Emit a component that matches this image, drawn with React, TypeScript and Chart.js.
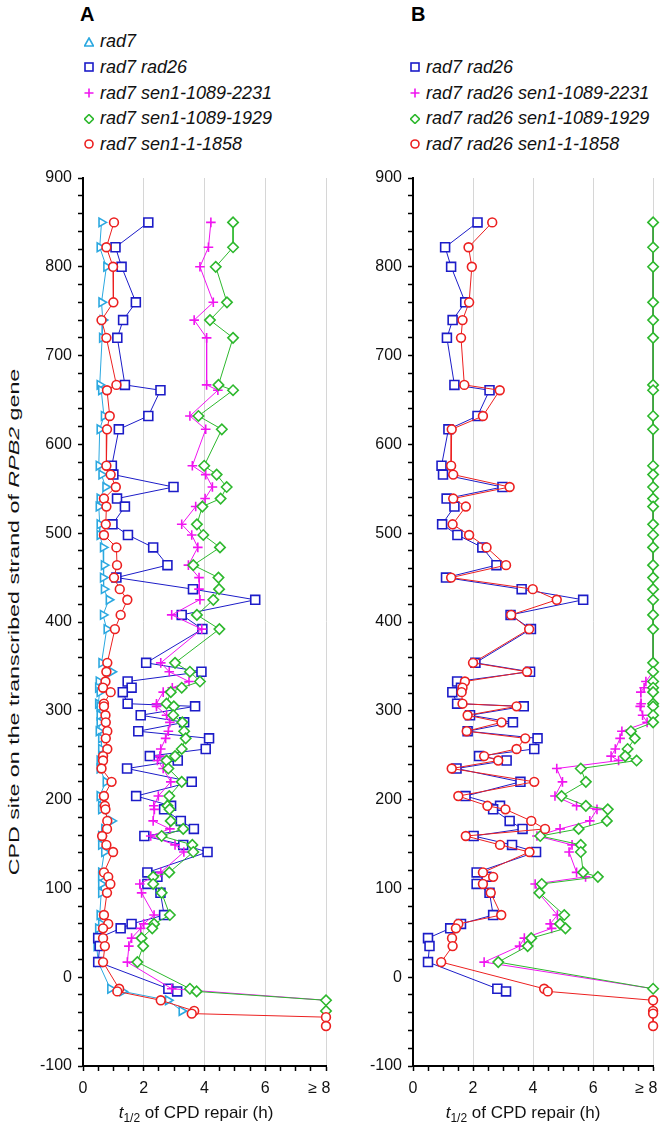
import React, { useEffect, useRef } from 'react';
import { Chart, registerables } from 'chart.js';

Chart.register(...registerables);

const FONT = "'Liberation Sans', Arial, Helvetica, sans-serif";

// CPD sites (y values, shared by all series)
const sites = [
  850, 822, 800, 760, 740, 720, 667, 661, 632, 617,
  576, 566, 552, 539, 530, 510, 498, 484, 464, 450,
  437, 425, 408, 392, 354, 344, 333, 326, 321, 308,
  305, 295, 287, 277, 269, 257, 249, 244, 235, 220,
  204, 193, 189, 176, 167, 159, 149, 141, 118, 113,
  105, 95, 70, 60, 55, 44, 35, 17, -13, -16,
  -26, -38, -41, -45, -55,
];

// t1/2 (h) values, aligned with sites; null = no point
const rad7 = [
  0.61, 0.55, 0.77, 0.61, 0.65, 0.63, 0.55, 0.6, 0.69, 0.55,
  0.52, 0.61, 0.74, 0.55, 0.52, 0.55, 0.55, 0.66, 0.69, 0.66,
  0.69, 0.85, 0.66, 0.78, 0.61, 0.94, 0.52, 0.5, 0.55, 0.5,
  0.55, 0.55, 0.55, 0.52, 0.6, 0.6, 0.62, 0.55, 0.55, 0.75,
  0.55, 0.6, 0.6, 0.94, 0.7, 0.6, 0.6, 0.7, 0.6, 0.6,
  0.6, 0.6, 0.55, 0.6, 0.5, 0.45, 0.45, 0.5, 0.9, 1.3,
  2.8, 3.25, null, null, null,
];

const rad7rad26 = [
  2.15, 1.07, 1.27, 1.74, 1.32, 1.13, 1.38, 2.55, 2.15, 1.18,
  0.95, 1.0, 2.98, 1.12, 1.38, 0.97, 1.48, 2.31, 2.78, 1.1,
  3.62, 5.67, 3.25, 3.93, 2.08, 3.9, 1.47, 1.6, 1.31, 1.47,
  3.69, 1.9, 3.33, 1.82, 4.15, 4.04, 2.2, 3.12, 1.45, 3.58,
  1.75, 2.9, 2.67, 3.22, 3.65, 2.02, 3.3, 4.1, 2.12, 2.45,
  2.12, 2.55, 2.67, 1.6, 1.24, 0.5, 0.55, 0.5, 2.81, 3.1,
  null, null, null, null, null,
];

const aSen2231 = [
  4.21, 4.13, 3.85, 4.29, 3.66, 4.07, 4.07, 4.44, 3.52, 4.04,
  3.6, 4.04, 4.26, 4.02, 3.71, 3.25, 3.58, 3.78, 3.47, 3.82,
  3.82, 3.85, 2.92, 3.91, 2.56, 2.84, 3.49, 2.94, 2.64, 2.42,
  2.42, 2.75, 2.86, 2.81, 2.72, 2.56, 2.53, 2.45, 2.64, 2.89,
  2.48, 2.33, 2.35, 2.31, 2.86, 2.23, 3.03, 3.32, 2.56, null,
  1.87, 1.93, 2.34, 2.0, 1.9, 1.6, 1.51, 1.46, 2.92, null,
  8, null, null, null, null,
];

const aSen1929 = [
  4.94, 4.94, 4.37, 4.74, 4.18, 4.94, 4.46, 4.94, 3.8, 4.57,
  3.99, 4.4, 4.73, 4.53, 3.93, 3.75, 3.96, 4.51, 3.63, 4.46,
  4.48, 4.29, 3.75, 4.49, 3.03, 3.52, 3.85, 3.25, 2.89, 2.75,
  2.99, 2.97, 3.27, 3.33, 3.38, 3.25, 3.03, 2.75, 2.81, 3.25,
  2.84, 2.78, 2.85, 2.89, 3.3, 2.59, 3.6, 3.63, 2.84, 2.31,
  2.31, 2.59, 2.86, 2.34, 2.28, 1.93, 1.98, 1.79, 3.52, 3.74,
  8, 8, null, null, null,
];

const aSen1858 = [
  1.02, 0.77, 0.99, 1.0, 0.61, 0.77, 1.1, 0.79, 0.88, 0.79,
  0.77, 0.91, 1.08, 0.69, 0.77, 0.75, 0.69, 1.1, 1.12, 1.02,
  1.21, 1.46, 1.24, 1.05, 0.8, 0.77, 0.74, 0.66, 0.91, 0.69,
  0.69, 0.74, 0.75, 0.8, 0.75, 0.8, 0.66, 0.66, 0.61, 0.94,
  0.69, 0.72, 0.74, 0.8, 0.79, 0.63, 0.77, 0.99, 0.69, 0.83,
  0.9, 0.79, 0.69, 0.83, 0.66, 0.66, 0.72, 0.66, 1.19, 1.13,
  2.56, 3.66, 3.58, 8, 8,
];

const bSen2231 = [
  8, 8, 8, 8, 8, 8, 8, 8, 8, 8,
  8, 8, 8, 8, 8, 8, 8, 8, 8, 8,
  8, 8, 8, 8, 8, 8, 7.76, 7.7, 7.59, 7.6,
  7.57, 7.65, 7.8, 6.96, 6.9, 6.74, 6.6, 6.85, 4.79, 4.98,
  4.73, 5.45, 6.13, 5.89, 4.9, 4.13, 5.3, 5.2, 5.45, 5.75,
  4.07, 4.18, 4.81, 4.57, 4.62, 3.71, 3.55, 2.37, 8, null,
  null, null, null, null, null,
];

const bSen1929 = [
  8, 8, 8, 8, 8, 8, 8, 8, 8, 8,
  8, 8, 8, 8, 8, 8, 8, 8, 8, 8,
  8, 8, 8, 8, 8, 8, 8, 8, 8, 8,
  8, 8, 8, 7.26, 7.39, 7.15, 7.07, 7.45, 5.59, 5.76,
  4.95, 5.76, 6.49, 6.46, 5.52, 4.24, 5.59, 5.59, 5.67, 6.16,
  4.29, 4.21, 5.04, 4.9, 5.08, 3.94, 3.82, 2.84, 8, null,
  null, null, null, null, null,
];

const bSen1858 = [
  2.64, 1.85, 1.96, 1.87, 1.65, 1.6, 1.71, 2.89, 2.33, 1.29,
  1.27, 1.34, 3.22, 1.34, 1.76, 1.32, 1.87, 2.45, 3.1, 1.27,
  3.99, 4.79, 3.27, 3.87, 2.0, 3.8, 1.73, 1.65, 1.62, 1.65,
  3.45, 1.82, 2.95, 1.79, 3.74, 3.45, 2.37, 2.84, 1.29, 4.04,
  1.51, 2.48, 3.08, 3.94, 4.4, 1.76, 2.9, 3.88, 2.33, 2.67,
  2.33, 2.59, 2.94, 1.51, 1.43, 1.3, 1.32, 0.94, 4.37, 4.49,
  8, 8, 8, null, 8,
];

const legendA = ['rad7', 'rad7 rad26', 'rad7 sen1-1089-2231', 'rad7 sen1-1089-1929', 'rad7 sen1-1-1858'];
const legendB = ['rad7 rad26', 'rad7 rad26 sen1-1089-2231', 'rad7 rad26 sen1-1089-1929', 'rad7 rad26 sen1-1-1858'];

const xLabelValues = [0, 2, 4, 6, 8];

const C = {
  cyan: '#2ba8e0',
  blue: '#1c1cc8',
  magenta: '#f014f0',
  green: '#2db82d',
  red: '#ec2020',
};

type Style = { color: string; shape: string; r: number; rot?: number };
const S: Record<string, Style> = {
  tri: { color: C.cyan, shape: 'triangle', r: 5, rot: 90 },
  sq: { color: C.blue, shape: 'rect', r: 6.3 },
  plus: { color: C.magenta, shape: 'cross', r: 4.8 },
  dia: { color: C.green, shape: 'rectRot', r: 5.2 },
  circ: { color: C.red, shape: 'circle', r: 4.4 },
};

function toPoints(vals: (number | null)[]) {
  const pts: { x: number; y: number }[] = [];
  sites.forEach((s, i) => {
    const v = vals[i];
    if (v !== null && v !== undefined) pts.push({ x: v, y: s });
  });
  return pts;
}

function ds(label: string, vals: (number | null)[], st: Style) {
  return {
    label,
    data: toPoints(vals),
    showLine: true,
    tension: 0,
    borderColor: st.color,
    borderWidth: 1,
    pointStyle: st.shape,
    pointRadius: st.r,
    pointRotation: st.rot || 0,
    pointBorderColor: st.color,
    pointBackgroundColor: '#ffffff',
    pointBorderWidth: 1.6,
    clip: false,
  };
}

const PLOT_TOP = 178;
const PLOT_BOTTOM = 1066;
const CANVAS_TOP = 150;
const CANVAS_H = 981;
const X_AXIS_H = 40;

function Panel(props: { datasets: any[]; left: number; width: number; plotLeft: number; plotRight: number }) {
  const ref = useRef<HTMLCanvasElement | null>(null);
  useEffect(() => {
    if (!ref.current) return;
    const chart = new Chart(ref.current, {
      type: 'scatter',
      data: { datasets: props.datasets },
      options: {
        animation: false,
        responsive: false,
        maintainAspectRatio: false,
        devicePixelRatio: 1,
        layout: {
          padding: {
            top: PLOT_TOP - CANVAS_TOP,
            right: props.width - (props.plotRight - props.left),
            bottom: CANVAS_H - (PLOT_BOTTOM - CANVAS_TOP) - X_AXIS_H,
            left: 0,
          },
        },
        plugins: { legend: { display: false }, tooltip: { enabled: false }, title: { display: false } },
        scales: {
          x: {
            type: 'linear',
            min: 0,
            max: 8,
            afterFit: (s: any) => {
              s.height = X_AXIS_H;
              s.paddingLeft = 0;
              s.paddingRight = 0;
            },
            ticks: {
              stepSize: 0.5,
              autoSkip: false,
              maxRotation: 0,
              minRotation: 0,
              padding: 8,
              color: '#111',
              font: { family: FONT, size: 16 },
              callback: (v: any) => {
                const n = Number(v);
                if (!xLabelValues.includes(n)) return '';
                return n === 8 ? '\u2265 8   ' : String(n);
              },
            },
            grid: {
              color: (ctx: any) => {
                const v = ctx.tick ? ctx.tick.value : null;
                return v !== null && v > 0 && v % 2 === 0 ? '#d6d6d6' : 'rgba(0,0,0,0)';
              },
              tickColor: '#000',
              tickLength: 5,
              tickWidth: 1.5,
              lineWidth: 1,
              drawOnChartArea: true,
            },
            border: { display: true, color: '#000', width: 2 },
          },
          y: {
            type: 'linear',
            min: -100,
            max: 900,
            afterFit: (s: any) => {
              s.width = props.plotLeft - props.left;
              s.paddingTop = 0;
              s.paddingBottom = 0;
            },
            ticks: {
              stepSize: 20,
              autoSkip: false,
              padding: 6,
              color: '#111',
              font: { family: FONT, size: 16 },
              callback: (v: any) => (Number(v) % 100 === 0 ? String(v) : ''),
            },
            grid: {
              drawOnChartArea: false,
              tickColor: '#000',
              tickLength: 5,
              tickWidth: 1.5,
            },
            border: { display: true, color: '#000', width: 2 },
          },
        },
      },
    } as any);
    return () => chart.destroy();
  }, []);
  return (
    <canvas
      ref={ref}
      width={props.width}
      height={CANVAS_H}
      style={{ position: 'absolute', left: props.left, top: CANVAS_TOP, width: props.width, height: CANVAS_H }}
    />
  );
}

function Sym({ kind }: { kind: string }) {
  const common = { fill: 'none', strokeWidth: 1.6 } as any;
  let el: any = null;
  if (kind === 'tri') el = <polygon points="5,1 9.5,9 0.5,9" stroke={C.cyan} {...common} />;
  if (kind === 'sq') el = <rect x="1" y="1" width="8" height="8" stroke={C.blue} {...common} />;
  if (kind === 'plus') el = <path d="M5 0.5 V9.5 M0.5 5 H9.5" stroke={C.magenta} {...common} />;
  if (kind === 'dia') el = <polygon points="5,0.5 9.5,5 5,9.5 0.5,5" stroke={C.green} {...common} />;
  if (kind === 'circ') el = <circle cx="5" cy="5" r="4" stroke={C.red} {...common} />;
  return (
    <svg width="10" height="10" viewBox="0 0 10 10" style={{ display: 'block', marginRight: 6 }}>
      {el}
    </svg>
  );
}

function Legend({ items, kinds, symX, rows }: { items: string[]; kinds: string[]; symX: number; rows: number[] }) {
  return (
    <>
      {items.map((t, i) => (
        <div
          key={t}
          style={{
            position: 'absolute',
            left: symX - 5,
            top: rows[i] - 10,
            height: 20,
            display: 'flex',
            alignItems: 'center',
            whiteSpace: 'nowrap',
            fontFamily: FONT,
            fontSize: 18,
            fontStyle: 'italic',
            color: '#111',
          }}
        >
          <Sym kind={kinds[i]} />
          <span>{t}</span>
        </div>
      ))}
    </>
  );
}

function XTitle({ cx }: { cx: number }) {
  return (
    <div
      style={{
        position: 'absolute',
        left: cx - 110,
        width: 220,
        top: 1103,
        textAlign: 'center',
        fontFamily: FONT,
        fontSize: 17,
        color: '#111',
        whiteSpace: 'nowrap',
        lineHeight: '19px',
      }}
    >
      <i>t</i>
      <sub style={{ fontSize: 12, verticalAlign: 'sub', lineHeight: 0 }}>1/2</sub> of CPD repair (h)
    </div>
  );
}

export default function App() {
  const rowsA = [41.7, 67, 93, 118.5, 144.3];
  const rowsB = [67, 93, 118.5, 144.3];
  const dsA = [
    ds(legendA[4], aSen1858, S.circ),
    ds(legendA[3], aSen1929, S.dia),
    ds(legendA[2], aSen2231, S.plus),
    ds(legendA[1], rad7rad26, S.sq),
    ds(legendA[0], rad7, S.tri),
  ];
  const dsB = [
    ds(legendB[3], bSen1858, S.circ),
    ds(legendB[2], bSen1929, S.dia),
    ds(legendB[1], bSen2231, S.plus),
    ds(legendB[0], rad7rad26, S.sq),
  ];
  const titleMid = 622;
  return (
    <div style={{ position: 'absolute', left: 0, top: 0, width: 661, height: 1131, overflow: 'hidden', background: '#fff' }}>
      <div style={{ position: 'absolute', left: 80, top: 4, fontFamily: FONT, fontWeight: 'bold', fontSize: 20, lineHeight: '20px', color: '#000' }}>A</div>
      <div style={{ position: 'absolute', left: 411, top: 4, fontFamily: FONT, fontWeight: 'bold', fontSize: 20, lineHeight: '20px', color: '#000' }}>B</div>
      <Legend items={legendA} kinds={['tri', 'sq', 'plus', 'dia', 'circ']} symX={89} rows={rowsA} />
      <Legend items={legendB} kinds={['sq', 'plus', 'dia', 'circ']} symX={415} rows={rowsB} />
      <div
        style={{
          position: 'absolute',
          left: 14 - 180,
          top: titleMid - 10,
          width: 360,
          height: 20,
          lineHeight: '20px',
          textAlign: 'center',
          transform: 'rotate(-90deg) scaleX(1.55)',
          transformOrigin: '50% 50%',
          fontFamily: FONT,
          fontSize: 15,
          color: '#111',
          whiteSpace: 'nowrap',
        }}
      >
        CPD site on the transcribed strand of <i>RPB2</i> gene
      </div>
      <Panel datasets={dsA} left={0} width={345} plotLeft={83} plotRight={326} />
      <Panel datasets={dsB} left={330} width={331} plotLeft={413} plotRight={656} />
      <XTitle cx={196} />
      <XTitle cx={523} />
    </div>
  );
}
